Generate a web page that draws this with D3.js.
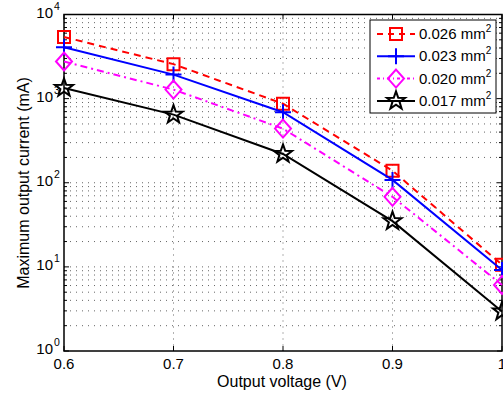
<!DOCTYPE html>
<html>
<head>
<meta charset="utf-8">
<script src="https://cdn.jsdelivr.net/npm/d3@7"></script>
<style>
  body { margin: 0; background: #fff; }
  svg { font-family: "Liberation Sans", Arial, sans-serif; }
</style>
</head>
<body>
<svg width="503" height="395"></svg>
<script>
const voltages = [0.6, 0.7, 0.8, 0.9, 1.0];
const area026 = [5400, 2570, 870, 139, 10.6];
const area023 = [4080, 1930, 690, 108, 9.2];
const area020 = [2760, 1280, 440, 68, 6.1];
const area017 = [1340, 645, 220, 35, 2.95];
const xTicks = [0.6, 0.7, 0.8, 0.9, 1.0];
const yDecades = [0, 1, 2, 3, 4];

const series = [
    { name: "0.026", values: area026, color: "#ff0000", dash: "7,5", marker: "square" },
    { name: "0.023", values: area023, color: "#0000ff", dash: null, marker: "plus" },
    { name: "0.020", values: area020, color: "#ff00ff", dash: "7,4,2,4", marker: "diamond" },
    { name: "0.017", values: area017, color: "#000000", dash: null, marker: "star" }
];

const plotL = 64, plotR = 502, plotT = 14.5, plotB = 351;
const svg = d3.select("svg");

const x = d3.scaleLinear().domain([0.6, 1.0]).range([plotL, plotR]);
const y = d3.scaleLog().domain([1, 10000]).range([plotB, plotT]);

// grid
const grid = svg.append("g")
    .attr("stroke", "#666")
    .attr("stroke-width", 1)
    .attr("stroke-dasharray", "1,5");

xTicks.slice(1, -1).forEach(t => {
    grid.append("line")
        .attr("x1", x(t)).attr("x2", x(t))
        .attr("y1", plotT).attr("y2", plotB);
});

const minorVals = [];
yDecades.slice(0, -1).forEach(d => {
    for (let k = 1; k <= 9; k++) minorVals.push(k * Math.pow(10, d));
});
minorVals.push(10000);
minorVals.filter(v => v > 1 && v < 10000).forEach(v => {
    grid.append("line")
        .attr("x1", plotL).attr("x2", plotR)
        .attr("y1", y(v)).attr("y2", y(v));
});

// axes box and ticks (inside, MATLAB style)
const axes = svg.append("g").attr("stroke", "#000").attr("fill", "none");
axes.append("rect")
    .attr("x", plotL).attr("y", plotT)
    .attr("width", plotR - plotL).attr("height", plotB - plotT)
    .attr("stroke-width", 1.5);

xTicks.forEach(t => {
    axes.append("line").attr("x1", x(t)).attr("x2", x(t)).attr("y1", plotB).attr("y2", plotB - 5);
    axes.append("line").attr("x1", x(t)).attr("x2", x(t)).attr("y1", plotT).attr("y2", plotT + 5);
});
minorVals.forEach(v => {
    const major = Math.abs(Math.log10(v) % 1) < 1e-9;
    const len = major ? 5 : 3;
    axes.append("line").attr("x1", plotL).attr("x2", plotL + len).attr("y1", y(v)).attr("y2", y(v));
    axes.append("line").attr("x1", plotR).attr("x2", plotR - len).attr("y1", y(v)).attr("y2", y(v));
});

// tick labels
svg.append("g").selectAll("text")
    .data(xTicks)
    .enter().append("text")
    .attr("x", d => x(d))
    .attr("y", plotB + 18)
    .attr("text-anchor", "middle")
    .attr("font-size", 15)
    .text(d => d === 1 ? "1" : d.toFixed(1));

svg.append("g").selectAll("text")
    .data(yDecades)
    .enter().append("text")
    .attr("x", 53)
    .attr("y", d => y(Math.pow(10, d)) + 3)
    .attr("text-anchor", "end")
    .attr("font-size", 15)
    .text("10");
svg.append("g").selectAll("text")
    .data(yDecades)
    .enter().append("text")
    .attr("x", 54)
    .attr("y", d => y(Math.pow(10, d)) - 5)
    .attr("font-size", 10.5)
    .text(d => d);

svg.append("text")
    .attr("x", 282)
    .attr("y", 387)
    .attr("text-anchor", "middle")
    .attr("font-size", 16)
    .text("Output voltage (V)");

svg.append("text")
    .attr("transform", `translate(29,183) rotate(-90)`)
    .attr("text-anchor", "middle")
    .attr("font-size", 16)
    .text("Maximum output current (mA)");

// markers
function drawMarker(g, type, cx, cy, color) {
    let d;
    if (type === "square") {
        d = `M${cx - 6},${cy - 6}h12v12h-12Z`;
    } else if (type === "plus") {
        d = `M${cx - 8},${cy}H${cx + 8}M${cx},${cy - 8}V${cy + 8}`;
    } else if (type === "diamond") {
        d = `M${cx},${cy - 9}L${cx + 8},${cy}L${cx},${cy + 9}L${cx - 8},${cy}Z`;
    } else {
        const pts = [];
        for (let i = 0; i < 10; i++) {
            const r = i % 2 === 0 ? 9.5 : 3.8;
            const a = -Math.PI / 2 + i * Math.PI / 5;
            pts.push([cx + r * Math.cos(a), cy + r * Math.sin(a)]);
        }
        d = "M" + pts.map(p => p.join(",")).join("L") + "Z";
    }
    g.append("path").attr("d", d)
        .attr("fill", "none").attr("stroke", color).attr("stroke-width", 2);
}

const line = d3.line().x(d => x(d[0])).y(d => y(d[1]));

series.forEach(s => {
    const pts = voltages.map((v, i) => [v, s.values[i]]);
    const g = svg.append("g");
    g.append("path")
        .datum(pts)
        .attr("d", line)
        .attr("fill", "none")
        .attr("stroke", s.color)
        .attr("stroke-width", 2)
        .attr("stroke-dasharray", s.dash);
    pts.forEach(p => drawMarker(g, s.marker, x(p[0]), y(p[1]), s.color));
});

// legend
const leg = svg.append("g");
leg.append("rect")
    .attr("x", 370).attr("y", 20).attr("width", 126).attr("height", 93)
    .attr("fill", "#fff").attr("stroke", "#000").attr("stroke-width", 1);
series.forEach((s, i) => {
    const ly = 34 + i * 22.3;
    leg.append("line")
        .attr("x1", 377).attr("x2", 415).attr("y1", ly).attr("y2", ly)
        .attr("stroke", s.color).attr("stroke-width", 2)
        .attr("stroke-dasharray", s.dash === null ? null : (s.marker === "square" ? "6,5" : "3,3,1,3"));
    drawMarker(leg, s.marker, 396, ly, s.color);
    const t = leg.append("text")
        .attr("x", 419).attr("y", ly + 5)
        .attr("font-size", 15)
        .text(s.name + " mm");
    t.append("tspan").attr("font-size", 10).attr("dy", -7).text("2");
});
</script>
</body>
</html>
